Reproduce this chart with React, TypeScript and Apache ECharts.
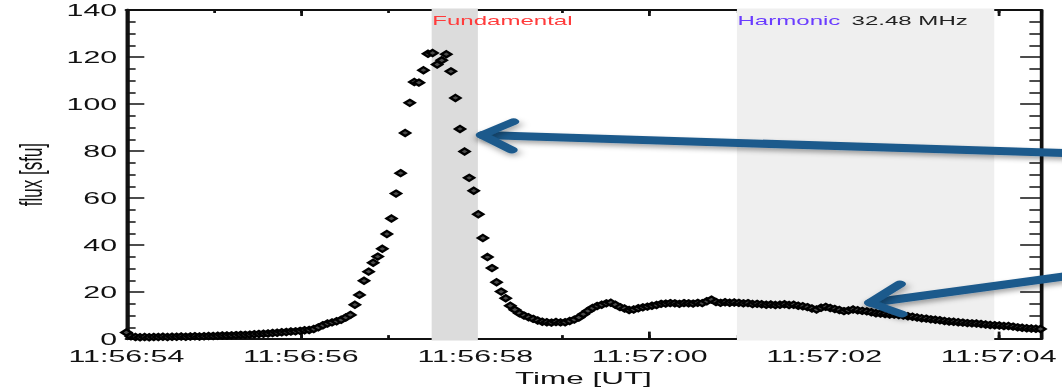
import { useEffect, useRef } from 'react';
import * as echarts from 'echarts';

// ---------------- data ----------------
// time axis: seconds after 11:56:00 UT
const T0 = 54.0;
const DT = 0.0524;
const FLUX: number[] = [
  2.8, 1.2, 0.9, 0.8, 0.9, 0.8, 0.9, 0.9, 1.0, 0.9,
  1.0, 1.0, 1.1, 1.0, 1.1, 1.2, 1.1, 1.2, 1.3, 1.3,
  1.4, 1.5, 1.5, 1.6, 1.7, 1.8, 1.8, 1.9, 2.1, 2.2,
  2.3, 2.4, 2.6, 2.7, 2.9, 3.0, 3.2, 3.3, 3.5, 3.8,
  3.9, 4.3, 5.0, 5.9, 6.6, 7.1, 7.6, 8.2, 9.2,
  10.3, 14.6, 18.8, 24.8, 28.7, 32.5, 35.1, 38.4, 44.7, 51.3,
  61.9, 70.6, 87.7, 100.5, 109.4, 109.1, 114.4, 121.4, 121.7, 116.8,
  118.6, 121.2, 113.9, 102.6, 89.4, 79.8, 68.6, 63.1, 53.1, 43.0,
  34.9, 30.2, 24.2, 20.2, 17.4, 14.2, 12.5, 11.0,
  10.0, 9.3, 8.6, 7.9, 7.4, 7.2, 7.0, 7.3, 7.1, 7.2,
  7.7, 8.3, 9.2, 10.6, 12.0, 13.2, 14.1, 14.6, 15.2, 15.5,
  14.6, 13.6, 13.0, 12.4, 12.6, 13.1, 13.5, 13.8, 14.2, 14.5,
  15.0, 15.1, 15.3, 15.2, 15.0, 15.3, 15.2, 15.1, 15.4, 15.3,
  16.1, 16.8, 15.8, 15.4, 15.7, 15.5, 15.6, 15.4, 15.2, 15.3,
  14.9, 15.0, 14.8, 14.6, 14.7, 14.5, 14.6, 14.8, 14.5, 14.6,
  14.2, 14.0, 13.6, 13.0, 12.6, 13.3, 13.7, 13.2, 12.8, 12.4,
  11.9, 12.2, 12.6, 12.3, 12.0, 11.8, 11.4, 11.0, 10.9, 10.7,
  10.5, 10.4, 10.2, 10.0, 9.7, 9.5, 9.2, 8.9, 8.7, 8.4,
  8.2, 8.0, 7.7, 7.5, 7.4, 7.2, 7.0, 6.8, 6.7, 6.6,
  6.4, 6.2, 6.0, 5.9, 5.8, 5.6, 5.6, 5.3, 5.0, 4.8,
  4.6, 4.5, 4.4, 4.3,
];

const X_MIN = 54;
const X_MAX = 64.48;
const Y_MIN = 0;
const Y_MAX = 140;
const Y_STEP = 20;
const TIME_TICKS = [54, 56, 58, 60, 62, 64];
const TIME_LABELS = ['11:56:54', '11:56:56', '11:56:58', '11:57:00', '11:57:02', '11:57:04'];

const BAND_STARTS = [57.5, 61.0];
const BAND_ENDS = [58.03, 63.95];
const BAND_NAMES = ['Fundamental', 'Harmonic'];
const FREQUENCY_LABEL = '32.48 MHz';

// ---------------- layout / style ----------------
const PAGE_W = 1062;
const PAGE_H = 391;
const CHART_W = 574;
const STRETCH = PAGE_W / CHART_W;
const FONT = "'Liberation Sans', Arial, Helvetica, sans-serif";
const AXIS_COLOR = '#111111';
const BAND_COLORS = ['#dcdcdc', '#efefef'];
const ARROW_COLOR = '#1e5a8c';

const sx = (x: number) => x / STRETCH;

function arrow(tip: number[], armA: number[], armB: number[], end: number[]) {
  const shadow = {
    shadowBlur: 5,
    shadowColor: 'rgba(0,0,0,0.35)',
    shadowOffsetX: 1,
    shadowOffsetY: 3,
  };
  return [
    {
      type: 'line',
      z: 100,
      shape: { x1: sx(tip[0]) + 1, y1: tip[1], x2: sx(end[0]), y2: end[1] },
      style: { stroke: ARROW_COLOR, lineWidth: 8, lineCap: 'round', ...shadow },
    },
    {
      type: 'polyline',
      z: 101,
      shape: { points: [[sx(armA[0]), armA[1]], [sx(tip[0]), tip[1]], [sx(armB[0]), armB[1]]] },
      style: { stroke: ARROW_COLOR, fill: null, lineWidth: 6.5, lineCap: 'round', lineJoin: 'round', ...shadow },
    },
  ];
}

export default function App() {
  const ref = useRef<HTMLDivElement>(null);

  useEffect(() => {
    if (!ref.current) return;
    const chart = echarts.init(ref.current, undefined, { renderer: 'svg' });

    const points = FLUX.map((v, i) => [T0 + i * DT, v]);
    const bands = BAND_STARTS.map((s, i) => [s, BAND_ENDS[i], i]);

    const lineStyle = { color: AXIS_COLOR, width: 2 };
    const tickStyle = { color: AXIS_COLOR, width: 1.5 };

    const xBase = {
      type: 'value',
      min: X_MIN,
      max: X_MAX,
      splitLine: { show: false },
      axisLabel: { show: false },
    };

    const option: any = {
      animation: false,
      backgroundColor: '#ffffff',
      grid: {
        left: sx(125),
        right: CHART_W - sx(1042),
        top: 10,
        bottom: PAGE_H - 342,
        containLabel: false,
      },
      xAxis: [
        {
          ...xBase,
          interval: 2,
          position: 'bottom',
          axisLine: { show: true, onZero: false, lineStyle },
          axisTick: { show: true, inside: true, length: 7.5, lineStyle: tickStyle },
          axisLabel: {
            show: true,
            showMaxLabel: false,
            fontSize: 16.4,
            color: AXIS_COLOR,
            fontFamily: FONT,
            margin: 9,
            formatter: (v: number) => {
              const k = TIME_TICKS.indexOf(Math.round(v * 1000) / 1000);
              return k >= 0 ? TIME_LABELS[k] : '';
            },
          },
          name: 'Time [UT]',
          nameLocation: 'middle',
          nameGap: 27.5,
          nameTextStyle: { fontSize: 17, color: AXIS_COLOR, fontFamily: FONT },
        },
        {
          ...xBase,
          interval: 1,
          position: 'bottom',
          axisLine: { show: false, onZero: false },
          axisTick: { show: true, inside: true, length: 4, lineStyle: tickStyle },
        },
        {
          ...xBase,
          interval: 2,
          position: 'top',
          axisLine: { show: true, onZero: false, lineStyle },
          axisTick: { show: true, inside: true, length: 6, lineStyle: tickStyle },
        },
        {
          ...xBase,
          interval: 1,
          position: 'top',
          axisLine: { show: false, onZero: false },
          axisTick: { show: true, inside: true, length: 3, lineStyle: tickStyle },
        },
      ],
      yAxis: [
        {
          type: 'value',
          min: Y_MIN,
          max: Y_MAX,
          interval: Y_STEP,
          position: 'left',
          axisLine: { show: true, onZero: false, lineStyle: { color: AXIS_COLOR, width: 2.3 } },
          axisTick: { show: true, inside: true, length: 9.7, lineStyle: tickStyle },
          minorTick: { show: true, splitNumber: 4, length: 5, lineStyle: tickStyle },
          splitLine: { show: false },
          minorSplitLine: { show: false },
          axisLabel: { fontSize: 16.4, color: AXIS_COLOR, fontFamily: FONT, margin: 5 },
          name: 'flux [sfu]',
          nameLocation: 'middle',
          nameGap: 43.3,
          nameRotate: 90,
          nameTextStyle: { fontSize: 17, color: AXIS_COLOR, fontFamily: FONT },
        },
        {
          type: 'value',
          min: Y_MIN,
          max: Y_MAX,
          interval: Y_STEP,
          position: 'right',
          axisLine: { show: true, onZero: false, lineStyle },
          axisTick: { show: true, inside: true, length: 11, lineStyle: tickStyle },
          minorTick: { show: true, splitNumber: 4, length: 6, lineStyle: tickStyle },
          splitLine: { show: false },
          minorSplitLine: { show: false },
          axisLabel: { show: false },
        },
      ],
      series: [
        {
          type: 'custom',
          z: 1,
          xAxisIndex: 0,
          yAxisIndex: 0,
          clip: false,
          silent: true,
          data: bands,
          renderItem: (params: any, api: any) => {
            const i = params.dataIndex;
            const p0 = api.coord([api.value(0), Y_MAX]);
            const p1 = api.coord([api.value(1), Y_MIN]);
            const text =
              i === 0
                ? { text: BAND_NAMES[0], fill: '#ff3b3b' }
                : {
                    text: `{h|${BAND_NAMES[1]}}{f|${FREQUENCY_LABEL}}`,
                    rich: {
                      h: { fill: '#6a3cff', fontSize: 13, fontFamily: FONT },
                      f: { fill: '#222222', fontSize: 13, fontFamily: FONT, padding: [0, 0, 0, 6] },
                    },
                  };
            return {
              type: 'group',
              children: [
                {
                  type: 'rect',
                  shape: { x: p0[0], y: p0[1] - 1.5, width: p1[0] - p0[0], height: p1[1] - p0[1] + 3 },
                  style: { fill: BAND_COLORS[i] },
                },
                {
                  type: 'text',
                  x: p0[0] + 0.3,
                  y: p0[1] + 4.2,
                  style: {
                    ...text,
                    fontSize: 13,
                    fontFamily: FONT,
                    align: 'left',
                    verticalAlign: 'top',
                  },
                },
              ],
            };
          },
        },
        {
          type: 'scatter',
          z: 3,
          xAxisIndex: 0,
          yAxisIndex: 0,
          clip: false,
          symbol: 'diamond',
          symbolSize: [5.4, 6.2],
          itemStyle: { color: '#4a4a4a', borderColor: '#000000', borderWidth: 1.8, opacity: 1 },
          data: points,
        },
      ],
      graphic: [
        ...arrow([481.7, 135], [513.3, 121.7], [511.7, 150], [1072, 153.3]),
        ...arrow([870, 302.7], [900, 284], [901.7, 314], [1072, 275.3]),
      ],
    };

    chart.setOption(option);
    return () => chart.dispose();
  }, []);

  return (
    <div
      style={{
        position: 'fixed',
        left: 0,
        top: 0,
        width: PAGE_W,
        height: PAGE_H,
        overflow: 'hidden',
        background: '#ffffff',
      }}
    >
      <div
        ref={ref}
        style={{
          width: CHART_W,
          height: PAGE_H,
          transform: `scaleX(${STRETCH})`,
          transformOrigin: '0 0',
        }}
      />
    </div>
  );
}
